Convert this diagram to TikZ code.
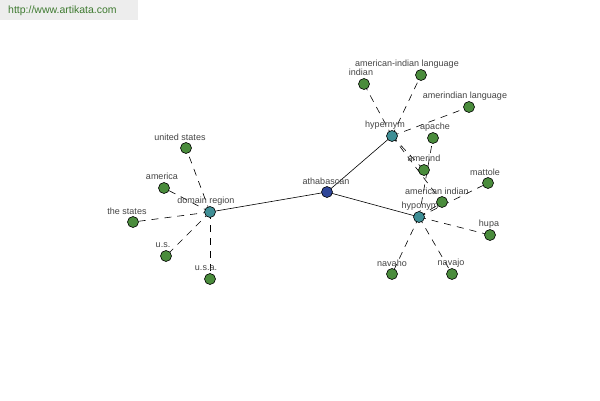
\documentclass[tikz,border=0pt]{standalone}
\usepackage{fontspec}
\setmainfont{Liberation Sans}
\begin{document}
\begin{tikzpicture}[x=1pt,y=-1pt,
  leaf/.style={circle,draw=black,line width=0.6pt,fill=leafgreen,minimum size=11pt,inner sep=0pt},
  rel/.style={circle,draw=black,line width=0.6pt,fill=relteal,minimum size=11pt,inner sep=0pt},
  root/.style={circle,draw=black,line width=0.6pt,fill=rootblue,minimum size=11pt,inner sep=0pt},
  lbl/.style={font=\fontsize{9}{10}\selectfont,text=labelgray,inner sep=0pt},
  solidedge/.style={draw=black,line width=0.6pt},
  dashedge/.style={draw=black,line width=0.6pt,dash pattern=on 7pt off 6pt}]
\definecolor{leafgreen}{HTML}{4A8C3C}
\definecolor{relteal}{HTML}{3F8F96}
\definecolor{rootblue}{HTML}{2F4699}
\definecolor{labelgray}{HTML}{444444}
\definecolor{urlgreen}{HTML}{3E7A30}
\definecolor{urlbg}{HTML}{EDEDED}
\useasboundingbox (0,0) rectangle (600,400);
\fill[white] (0,0) rectangle (600,400);
\fill[urlbg] (0,0) rectangle (138,20);
\node[font=\fontsize{10.5}{11}\selectfont,text=urlgreen,anchor=west,inner sep=0pt] (url) at (8,11) {http://www.artikata.com};

% main nodes
\coordinate (ath) at (327,192);
\coordinate (hyper) at (392,136);
\coordinate (hypo) at (419,217);
\coordinate (dom) at (210,212);
% leaves
\coordinate (indian) at (364,84);
\coordinate (ail) at (421,75);
\coordinate (al) at (469,107);
\coordinate (apache) at (433,138);
\coordinate (amerind) at (424,170);
\coordinate (amind) at (442,202);
\coordinate (mattole) at (488,183);
\coordinate (hupa) at (490,235);
\coordinate (navaho) at (392,274);
\coordinate (navajo) at (452,274);
\coordinate (us1) at (186,148);
\coordinate (america) at (164,188);
\coordinate (states) at (133,222);
\coordinate (us2) at (166,256);
\coordinate (usa) at (210,279);

% edges
\draw[solidedge] (ath) -- (hyper);
\draw[solidedge] (ath) -- (hypo);
\draw[solidedge] (ath) -- (dom);
\foreach \t in {indian,ail,al,amerind,amind}{\draw[dashedge] (hyper) -- (\t);}
\foreach \t in {apache,amind,mattole,hupa,navaho,navajo}{\draw[dashedge] (hypo) -- (\t);}
\foreach \t in {us1,america,states,us2,usa}{\draw[dashedge] (dom) -- (\t);}

% labels
\node[lbl] (Lath) at (326,181) {athabascan};
\node[lbl] (Lhyper) at (385,125) {hypernym};
\node[lbl] (Lhypo) at (420,206) {hyponym};
\node[lbl] (Ldom) at (206,201) {domain region};
\node[lbl] (Lindian) at (361,72) {indian};
\node[lbl] (Lail) at (407,64) {american-indian language};
\node[lbl] (Lal) at (465,96) {amerindian language};
\node[lbl] (Lapache) at (435,127) {apache};
\node[lbl] (Lamerind) at (424,158) {amerind};
\node[lbl] (Lamind) at (437,191) {american indian};
\node[lbl] (Lmattole) at (485,172) {mattole};
\node[lbl] (Lhupa) at (489,224) {hupa};
\node[lbl] (Lnavaho) at (392,263) {navaho};
\node[lbl] (Lnavajo) at (451,263) {navajo};
\node[lbl] (Lus1) at (180,137) {united states};
\node[lbl] (Lamerica) at (162,176) {america};
\node[lbl] (Lstates) at (127,211) {the states};
\node[lbl] (Lus2) at (163,245) {u.s.};
\node[lbl] (Lusa) at (206,268) {u.s.a.};

% nodes
\node[root] (nath) at (ath) {};
\node[rel] (nhyper) at (hyper) {};
\node[rel] (nhypo) at (hypo) {};
\node[rel] (ndom) at (dom) {};
\foreach \t in {indian,ail,al,apache,amerind,amind,mattole,hupa,navaho,navajo,us1,america,states,us2,usa}{\node[leaf] (n\t) at (\t) {};}
\end{tikzpicture}
\end{document}
